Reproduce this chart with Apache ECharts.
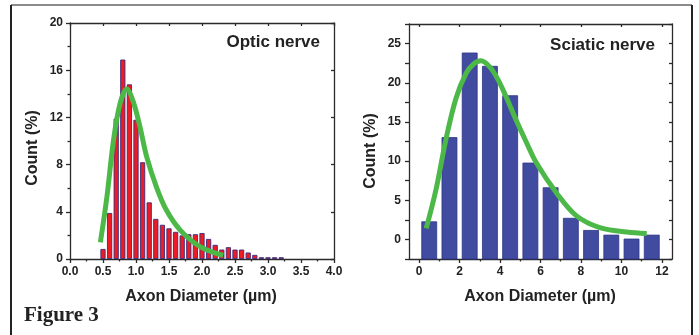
<!DOCTYPE html>
<html>
<head>
<meta charset="utf-8">
<script src="https://cdn.jsdelivr.net/npm/echarts@6/dist/echarts.min.js"></script>
<style>
  html, body { margin: 0; padding: 0; background: #fff; }
  #chart { width: 699px; height: 335px; }
</style>
</head>
<body>
<div id="chart"></div>
<script>
// optic nerve histogram (bin centres, um) and counts (%)
const opticBins = [0.5, 0.6, 0.7, 0.8, 0.9, 1.0, 1.1, 1.2, 1.3, 1.4, 1.5, 1.6, 1.7, 1.8,
  1.9, 2.0, 2.1, 2.2, 2.3, 2.4, 2.5, 2.6, 2.7, 2.8, 2.9, 3.0, 3.1, 3.2];
const opticCounts = [0.85, 3.9, 11.9, 16.9, 14.8, 11.8, 8.2, 4.8, 3.4, 2.9, 2.6, 2.3, 2.0, 2.1,
  2.1, 2.2, 1.7, 1.2, 0.8, 1.0, 0.8, 0.8, 0.55, 0.35, 0.15, 0.15, 0.15, 0.15];
// fitted curve
const opticFitX = [0.46, 0.56, 0.66, 0.76, 0.86, 0.96, 1.06, 1.16, 1.31, 1.46, 1.67, 1.97, 2.32];
const opticFitY = [1.4, 5.3, 10.1, 13.2, 14.4, 13.3, 11.2, 8.7, 6.1, 4.15, 2.45, 1.05, 0.3];

// sciatic nerve
const sciaticBins = [0.5, 1.5, 2.5, 3.5, 4.5, 5.5, 6.5, 7.5, 8.5, 9.5, 10.5, 11.5];
const sciaticCounts = [2.25, 13.0, 23.8, 22.1, 18.35, 9.75, 6.6, 2.7, 1.15, 0.55, 0.05, 0.55];
const sciaticFitX = [0.35, 0.83, 1.32, 1.82, 2.32, 2.7, 3.05, 3.5, 3.9, 4.3, 4.8, 5.3, 5.8,
  6.8, 7.78, 8.93, 10.26, 11.25];
const sciaticFitY = [1.4, 6.3, 12.7, 18.0, 21.2, 22.4, 22.8, 22.0, 20.4, 18.2, 15.2, 12.4, 9.75,
  5.9, 3.0, 1.5, 0.95, 0.75];

// tick labels
const opticXTicks = { min: 0, max: 4, step: 0.5 };
const opticYTicks = { min: 0, max: 20, step: 4 };
const sciaticXLabels = [0, 2, 4, 6, 8, 10, 12];
const sciaticXMinor = [1, 3, 5, 7, 9, 11];
const sciaticYLabels = [0, 5, 10, 15, 20, 25];
const sciaticYRange = { min: -2.5, max: 27.5, step: 2.5 };
const sciaticXRange = { min: -0.5, max: 12.5 };

const font = 'Arial, "Liberation Sans", sans-serif';
const axisColor = '#2a2a2a';
const green = '#4cb848';

const lineSt = { color: axisColor, width: 1.3 };
const labelSt = { color: '#222', fontWeight: 'bold', fontSize: 12, fontFamily: font };

function mirror(grid, pos, range, step) {
  return {
    gridIndex: grid, type: 'value', position: pos,
    min: range.min, max: range.max, interval: step,
    axisLine: { show: true, onZero: false, lineStyle: lineSt },
    axisTick: { show: true, inside: true, length: 3, lineStyle: lineSt },
    axisLabel: { show: false },
    splitLine: { show: false }
  };
}

const chart = echarts.init(document.getElementById('chart'));

chart.setOption({
  animation: false,
  backgroundColor: '#fff',
  grid: [
    { left: 70, top: 23, width: 264, height: 236 },
    { left: 409, top: 24, width: 263, height: 235 }
  ],
  xAxis: [
    {
      gridIndex: 0, type: 'value', position: 'bottom',
      min: opticXTicks.min, max: opticXTicks.max, interval: opticXTicks.step,
      axisLine: { onZero: false, lineStyle: lineSt },
      axisTick: { show: true, length: 4, lineStyle: lineSt },
      minorTick: { show: true, splitNumber: 2, length: 2.5, lineStyle: lineSt },
      axisLabel: Object.assign({ margin: 7, formatter: v => v.toFixed(1) }, labelSt),
      splitLine: { show: false }
    },
    mirror(0, 'top', opticXTicks, opticXTicks.step),
    {
      gridIndex: 1, type: 'value', position: 'bottom',
      min: sciaticXRange.min, max: sciaticXRange.max,
      axisLine: { onZero: false, lineStyle: lineSt },
      axisTick: { show: true, length: 4, customValues: sciaticXLabels, lineStyle: lineSt },
      axisLabel: Object.assign({ margin: 7, customValues: sciaticXLabels }, labelSt),
      splitLine: { show: false }
    },
    {
      gridIndex: 1, type: 'value', position: 'bottom',
      min: sciaticXRange.min, max: sciaticXRange.max,
      axisLine: { show: false, onZero: false },
      axisTick: { show: true, length: 2.5, customValues: sciaticXMinor, lineStyle: lineSt },
      axisLabel: { show: false },
      splitLine: { show: false }
    },
    {
      gridIndex: 1, type: 'value', position: 'top',
      min: sciaticXRange.min, max: sciaticXRange.max,
      axisLine: { onZero: false, lineStyle: lineSt },
      axisTick: { show: true, inside: true, length: 3, customValues: sciaticXLabels, lineStyle: lineSt },
      axisLabel: { show: false },
      splitLine: { show: false }
    }
  ],
  yAxis: [
    {
      gridIndex: 0, type: 'value', position: 'left',
      min: opticYTicks.min, max: opticYTicks.max, interval: opticYTicks.step,
      axisLine: { show: true, onZero: false, lineStyle: lineSt },
      axisTick: { show: true, length: 4, lineStyle: lineSt },
      minorTick: { show: true, splitNumber: 2, length: 2.5, lineStyle: lineSt },
      axisLabel: Object.assign({ margin: 7 }, labelSt),
      splitLine: { show: false }
    },
    mirror(0, 'right', opticYTicks, opticYTicks.step),
    {
      gridIndex: 1, type: 'value', position: 'left',
      min: sciaticYRange.min, max: sciaticYRange.max, interval: sciaticYRange.step,
      axisLine: { show: true, onZero: false, lineStyle: lineSt },
      axisTick: { show: true, length: 4, lineStyle: lineSt },
      axisLabel: Object.assign({ margin: 8, customValues: sciaticYLabels }, labelSt),
      splitLine: { show: false }
    },
    mirror(1, 'right', sciaticYRange, sciaticYRange.step)
  ],
  series: [
    {
      type: 'bar', xAxisIndex: 0, yAxisIndex: 0,
      barWidth: 5.2,
      itemStyle: { color: '#ed1c24', borderColor: '#3b2a7e', borderWidth: 0.9 },
      data: opticBins.map((x, i) => [x, opticCounts[i]])
    },
    {
      type: 'line', xAxisIndex: 0, yAxisIndex: 0, z: 5,
      smooth: 0.35, symbol: 'none',
      lineStyle: { color: green, width: 5, cap: 'butt' },
      data: opticFitX.map((x, i) => [x, opticFitY[i]])
    },
    {
      type: 'custom', xAxisIndex: 2, yAxisIndex: 2,
      renderItem: function (params, api) {
        const x = api.value(0), y = api.value(1);
        const p0 = api.coord([x - 0.37, y]);
        const p1 = api.coord([x + 0.37, sciaticYRange.min]);
        return {
          type: 'rect',
          shape: { x: p0[0], y: p0[1], width: p1[0] - p0[0], height: p1[1] - p0[1] },
          style: { fill: '#414ba0', stroke: '#2c3486', lineWidth: 0.8 }
        };
      },
      encode: { x: 0, y: 1 },
      data: sciaticBins.map((x, i) => [x, sciaticCounts[i]])
    },
    {
      type: 'line', xAxisIndex: 2, yAxisIndex: 2, z: 5,
      smooth: 0.35, symbol: 'none',
      lineStyle: { color: green, width: 5, cap: 'butt' },
      data: sciaticFitX.map((x, i) => [x, sciaticFitY[i]])
    }
  ],
  graphic: [
    // outer frame
    { type: 'line', shape: { x1: 11, y1: 5, x2: 692, y2: 5 }, style: { stroke: '#666', lineWidth: 1.5 } },
    { type: 'line', shape: { x1: 11, y1: 5, x2: 11, y2: 340 }, style: { stroke: '#222', lineWidth: 2 } },
    { type: 'line', shape: { x1: 692, y1: 5, x2: 692, y2: 340 }, style: { stroke: '#222', lineWidth: 2 } },
    {
      type: 'text', x: 320, y: 42,
      style: { text: 'Optic nerve', align: 'right', verticalAlign: 'middle', fill: '#222',
        font: 'bold 17px ' + font }
    },
    {
      type: 'text', x: 655, y: 45,
      style: { text: 'Sciatic nerve', align: 'right', verticalAlign: 'middle', fill: '#222',
        font: 'bold 17px ' + font }
    },
    {
      type: 'text', x: 33, y: 148, rotation: Math.PI / 2,
      style: { text: 'Count (%)', align: 'center', verticalAlign: 'middle', fill: '#222',
        font: 'bold 16px ' + font }
    },
    {
      type: 'text', x: 371, y: 151, rotation: Math.PI / 2,
      style: { text: 'Count (%)', align: 'center', verticalAlign: 'middle', fill: '#222',
        font: 'bold 16px ' + font }
    },
    {
      type: 'text', x: 201, y: 297,
      style: { text: 'Axon Diameter (\u00b5m)', align: 'center', verticalAlign: 'middle', fill: '#222',
        font: 'bold 16px ' + font }
    },
    {
      type: 'text', x: 540, y: 297,
      style: { text: 'Axon Diameter (\u00b5m)', align: 'center', verticalAlign: 'middle', fill: '#222',
        font: 'bold 16px ' + font }
    },
    {
      type: 'text', x: 24, y: 316,
      style: { text: 'Figure 3', align: 'left', verticalAlign: 'middle', fill: '#222',
        font: 'bold 21px "Times New Roman", "Liberation Serif", serif' }
    }
  ]
});
</script>
</body>
</html>
